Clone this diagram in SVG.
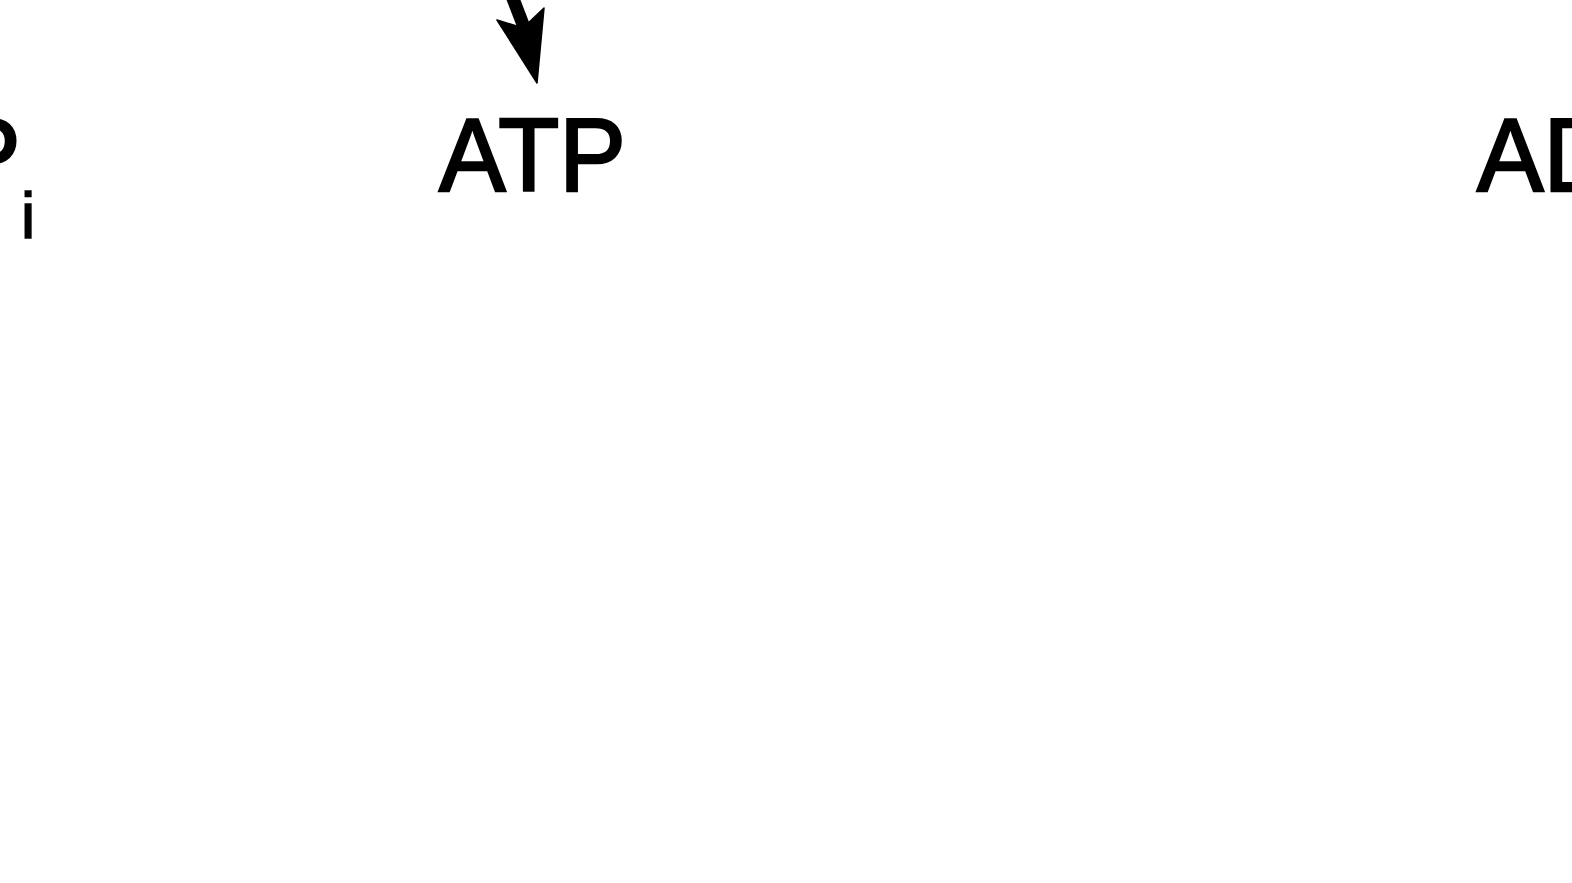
<svg xmlns="http://www.w3.org/2000/svg" width="1572" height="883" viewBox="0 0 1572 883">
<style>
.lbl{font-family:"Liberation Sans",Arial,sans-serif;font-size:104px;fill:#000;stroke:#000;stroke-width:2.5px;}
.sub{font-family:"Liberation Sans",Arial,sans-serif;font-size:64px;fill:#000;stroke:#000;stroke-width:1.5px;}
</style>
<rect width="1572" height="883" fill="#fff"/>
<g id="connectors">
<path d="M512,-4 L529,40" stroke="#000" stroke-width="13" fill="none"/>
<path d="M497,20 L523,28 L544,8 L537,83 Z" fill="#000" stroke="#000" stroke-width="1.5" stroke-linejoin="round"/>
</g>
<g id="node-pi">
<text class="lbl" transform="translate(-46,191) scale(0.96,1)">P</text>
<text class="sub" x="21" y="238">i</text>
</g>
<g id="node-atp">
<text class="lbl" transform="translate(439,191) scale(0.96,1)">ATP</text>
</g>
<g id="node-adp">
<text class="lbl" transform="translate(1477,191) scale(0.96,1)">ADP</text>
</g>
</svg>
